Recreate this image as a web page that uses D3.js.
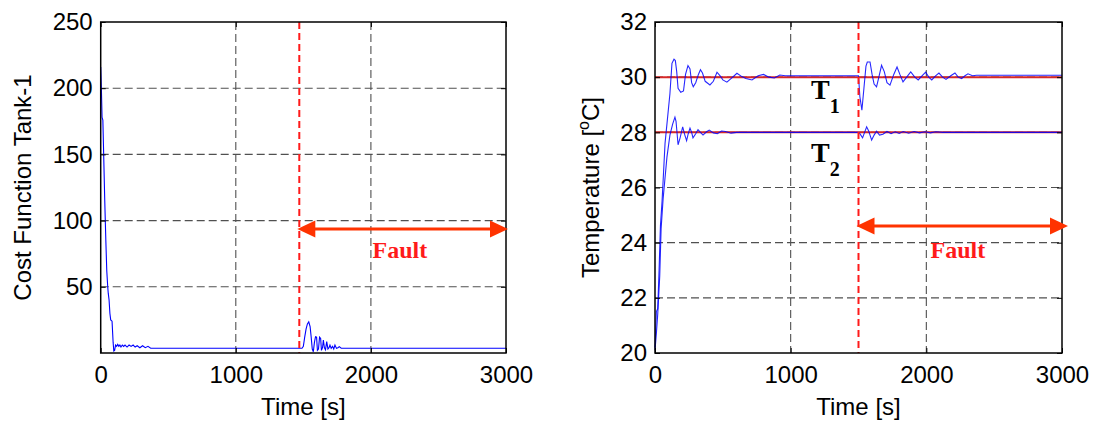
<!DOCTYPE html>
<html><head><meta charset="utf-8">
<script src="https://cdn.jsdelivr.net/npm/d3@7"></script>
<style>
body{margin:0;background:#fff}
</style></head><body>
<svg id="chart" width="1098" height="423" font-family="Liberation Sans, Arial, sans-serif"></svg>
<script>
// ---- data ----
const xTicks = [0, 1000, 2000, 3000];
const costTicks = [50, 100, 150, 200, 250];
const tempTicks = [20, 22, 24, 26, 28, 30, 32];

// cost function of tank 1 (time [s], value)
const costT = [0,5,10,16,22,30,38,45,52,56,62,68,74,84,92,97,103,110,118,126,134,142,150,160,170,180,195,210,225,240,255,270,290,310,330,350,370,
  1490,1500,1510,1520,1530,1540,1550,1558,1566,1574,1582,1590,1598,1604,1612,1620,1628,1634,1642,1648,1656,1664,1673,1682,1690,1697,1706,1716,1725,1734,1745,1756,1766,1780,3000];
const costV = [216,200,178,176,150,115,85,62,50,45,40,30,25,24,8,1.5,2,6,5,6.5,5,6,4.5,6,5,6,4.5,6,5,6,4.5,5.5,4,5.5,4,5,3.6,
  3.6,5,12,18,22,23.5,20,12,3,1,8,12.3,12,2,3,12,11,2,4,9.8,4,2.5,8.6,3,4,6,3.5,5,3,6,3.5,4,4.8,3.6,3.6];

// tank temperatures (time [s], °C)
const t1T = [0,10,20,30,40,52,74,110,125,140,150,160,170,190,210,225,243,258,270,282,300,320,335,350,370,405,430,457,480,500,530,560,604,640,670,715,760,800,840,880,920,960,1000,
  1500,1510,1525,1540,1555,1565,1585,1600,1615,1633,1650,1670,1690,1710,1732,1760,1784,1805,1828,1855,1885,1915,1940,1968,1995,2018,2040,2068,2093,2120,2145,2180,2211,2235,2260,2285,2307,2340,2370,3000];
const t1V = [20.2,21.5,21.6,23.0,24.6,25.5,27.6,29.4,30.5,30.65,30.6,30.2,29.6,29.45,29.5,30.1,30.42,30.3,29.8,29.65,29.8,30.1,30.27,30.15,29.85,29.72,29.85,30.18,30.05,29.9,29.82,29.95,30.14,30.02,29.95,29.9,30.05,30.1,30.0,29.97,30.08,30.05,30.05,
  30.05,29.3,28.8,29.6,30.4,30.55,30.55,30.1,29.75,29.65,30.0,30.43,30.2,29.8,29.71,30.1,30.37,30.1,29.83,30.0,30.19,30.0,29.9,30.05,30.18,30.0,29.9,30.05,30.15,30.0,29.92,30.05,30.15,30.0,29.95,30.05,30.12,30.05,30.07,30.07];
const t2T = [0,10,20,35,45,60,88,110,130,147,155,170,185,204,220,233,245,258,270,280,300,317,335,354,380,400,430,460,490,520,560,600,
  1500,1510,1530,1545,1560,1575,1597,1615,1633,1655,1680,1710,1740,1770,1800,1830,1870,1910,1950,1990,2030,2070,2120,3000];
const t2V = [20.1,20.7,21.4,22.8,24.5,25.6,27.1,27.9,28.3,28.55,28.4,27.55,27.8,28.2,27.9,27.7,27.95,28.15,28.0,27.8,27.95,28.1,28.0,27.9,28.02,28.08,27.98,27.95,28.05,28.03,27.97,28.0,
  28.0,27.95,27.8,28.0,28.2,28.05,27.72,27.9,28.04,27.9,27.93,28.03,27.95,28.02,27.96,28.03,27.97,28.03,27.98,28.02,27.98,28.02,28.0,28.0];

const setpoints = [30, 28];
const faultCost = 1470;
const faultTemp = 1500;

// ---- drawing ----
const svg = d3.select('#chart');
svg.append('rect').attr('width', 1098).attr('height', 423).attr('fill', '#fff');

const FS = 24;
const SANS = '"Liberation Sans", Arial, sans-serif';
const SERIF = '"Liberation Serif", "Times New Roman", serif';
const red = '#ff1a1a';
const arrowRed = '#ff3300';

function panel(p) {
  const x = d3.scaleLinear().domain([0, 3000]).range([p.left, p.right]);
  const y = d3.scaleLinear().domain(p.yDomain).range([p.bottom, p.top]);
  const g = svg.append('g');

  // dashed grid
  const grid = g.append('g').attr('stroke', '#505050').attr('stroke-width', 1.1).attr('stroke-dasharray', '8,4');
  grid.selectAll('.gx').data(xTicks.filter(v => v > 0 && v < 3000)).join('line')
    .attr('x1', d => x(d)).attr('x2', d => x(d)).attr('y1', p.top).attr('y2', p.bottom);
  grid.selectAll('.gy').data(p.yTicks.filter(v => v > p.yDomain[0] && v < p.yDomain[1])).join('line')
    .attr('x1', p.left).attr('x2', p.right).attr('y1', d => y(d)).attr('y2', d => y(d));

  p.draw(g, x, y);

  // fault marker
  g.append('line').attr('x1', x(p.fault)).attr('x2', x(p.fault)).attr('y1', p.top).attr('y2', p.bottom)
    .attr('stroke', red).attr('stroke-width', 2).attr('stroke-dasharray', '7,4');

  // frame
  g.append('rect').attr('x', p.left).attr('y', p.top).attr('width', p.right - p.left).attr('height', p.bottom - p.top)
    .attr('fill', 'none').attr('stroke', '#000').attr('stroke-width', 1.5);

  // axes
  const style = sel => {
    sel.attr('font-family', null).attr('font-size', null);
    sel.select('.domain').remove();
    sel.selectAll('.tick line').attr('stroke', '#000');
    sel.selectAll('text').style('font-size', FS + 'px').style('font-family', SANS).attr('fill', '#000');
  };
  g.append('g').attr('transform', `translate(0,${p.bottom})`)
    .call(d3.axisBottom(x).tickValues(xTicks).tickSizeInner(-5).tickSizeOuter(0).tickPadding(13).tickFormat(d3.format('d'))).call(style);
  g.append('g').attr('transform', `translate(0,${p.top})`)
    .call(d3.axisTop(x).tickValues(xTicks).tickSizeInner(-5).tickSizeOuter(0).tickFormat('')).call(style);
  g.append('g').attr('transform', `translate(${p.left},0)`)
    .call(d3.axisLeft(y).tickValues(p.yTicks).tickSizeInner(-5).tickSizeOuter(0).tickPadding(8).tickFormat(d3.format('d'))).call(style);
  g.append('g').attr('transform', `translate(${p.right},0)`)
    .call(d3.axisRight(y).tickValues(p.yTicks).tickSizeInner(-5).tickSizeOuter(0).tickFormat('')).call(style);

  // axis titles
  g.append('text').attr('x', (p.left + p.right) / 2).attr('y', 415).attr('text-anchor', 'middle')
    .style('font-family', SANS).style('font-size', FS + 'px').text('Time [s]');
  p.yTitle(g.append('text').attr('transform', `translate(${p.yTitleX},${(p.top + p.bottom) / 2}) rotate(-90)`)
    .attr('text-anchor', 'middle').style('font-family', SANS).style('font-size', FS + 'px'));

  // fault span arrow
  const ay = y(p.arrowY), ax0 = x(p.fault) - 2, ax1 = x(p.arrowEnd);
  g.append('line').attr('x1', ax0 + 14).attr('x2', ax1 - 14).attr('y1', ay).attr('y2', ay)
    .attr('stroke', arrowRed).attr('stroke-width', 3);
  g.append('path').attr('d', `M${ax0},${ay} L${ax0 + 18},${ay - 8.5} L${ax0 + 18},${ay + 8.5} Z`).attr('fill', arrowRed);
  g.append('path').attr('d', `M${ax1},${ay} L${ax1 - 18},${ay - 8.5} L${ax1 - 18},${ay + 8.5} Z`).attr('fill', arrowRed);
  g.append('text').attr('x', x(p.faultTextX)).attr('y', y(p.faultTextY)).attr('text-anchor', 'middle')
    .style('font-family', SERIF).style('font-weight', 'bold').style('font-size', '24px')
    .attr('fill', red).text('Fault');
}

const line = (x, y) => d3.line().x(d => x(d[0])).y(d => y(d[1]));

panel({
  left: 100.7, right: 506, top: 22, bottom: 353,
  yDomain: [0, 250], yTicks: costTicks, fault: faultCost,
  arrowY: 93.7, arrowEnd: 3015, faultTextX: 2215, faultTextY: 71.8,
  yTitleX: 31,
  yTitle: t => t.text('Cost Function Tank-1'),
  draw: (g, x, y) => {
    g.append('path').datum(d3.zip(costT, costV)).attr('d', line(x, y))
      .attr('fill', 'none').attr('stroke', '#0000ff').attr('stroke-width', 1.1);
  }
});

panel({
  left: 655, right: 1062, top: 22, bottom: 353,
  yDomain: [20, 32], yTicks: tempTicks, fault: faultTemp,
  arrowY: 24.6, arrowEnd: 3044, faultTextX: 2233, faultTextY: 23.44,
  yTitleX: 599,
  yTitle: t => {
    t.append('tspan').text('Temperature [');
    t.append('tspan').attr('dy', -10).style('font-size', '16px').text('o');
    t.append('tspan').attr('dy', 10).text('C]');
  },
  draw: (g, x, y) => {
    g.selectAll('.sp').data(setpoints).join('line')
      .attr('x1', x(0)).attr('x2', x(3000)).attr('y1', d => y(d)).attr('y2', d => y(d))
      .attr('stroke', '#d62828').attr('stroke-width', 2);
    [[t1T, t1V], [t2T, t2V]].forEach(([T, V]) => {
      g.append('path').datum(d3.zip(T, V)).attr('d', line(x, y))
        .attr('fill', 'none').attr('stroke', '#0000ff').attr('stroke-width', 1.1).attr('stroke-opacity', 0.85);
    });
    const lbl = (sub, tVal, v) => {
      const t = g.append('text').attr('x', x(tVal)).attr('y', y(v))
        .style('font-family', SERIF).style('font-weight', 'bold').style('font-size', '28px').attr('fill', '#000');
      t.append('tspan').text('T');
      t.append('tspan').attr('dy', 14).style('font-size', '20px').text(sub);
    };
    lbl('1', 1150, 29.2);
    lbl('2', 1150, 26.92);
  }
});
</script></body></html>
